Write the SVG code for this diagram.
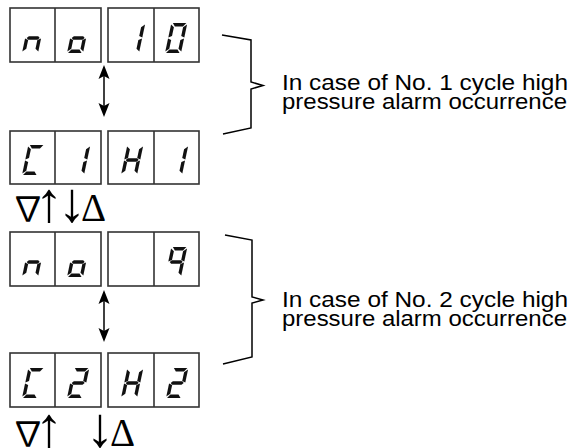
<svg xmlns="http://www.w3.org/2000/svg" xmlns:xlink="http://www.w3.org/1999/xlink" width="570" height="448" viewBox="0 0 570 448">
<style>
.box{fill:none;stroke:#333;stroke-width:1.6}
.seg{fill:#111}
.br{fill:none;stroke:#000;stroke-width:1.5}
.lbl{font-family:"Liberation Sans",Arial,sans-serif;font-size:22px;fill:#000}
.sym{font-family:"Liberation Serif","DejaVu Serif",serif;font-size:39px;fill:#000}
.tri{font-family:"Noto Sans CJK JP","Liberation Serif",serif;font-size:34px}
.ar{font-size:56px}
.arr{stroke:#000;stroke-width:1.5}
.ah{fill:#000}
</style>
<defs>
<polygon id="sa" class="seg" points="1.5,-30 15,-30 12.3,-26.6 4.2,-26.6"/>
<polygon id="sd" class="seg" points="1,0 14.5,0 11.8,-3.4 3.7,-3.4"/>
<polygon id="sg" class="seg" points="1.5,-15 3.3,-16.8 12.7,-16.8 14.5,-15 12.7,-13.2 3.3,-13.2"/>
<polygon id="sf" class="seg" points="0,-28.5 3.4,-25.8 3.4,-17 0,-15.6"/>
<polygon id="se" class="seg" points="0,-14.4 3.4,-13 3.4,-4.2 0,-1.5"/>
<polygon id="sb" class="seg" points="16,-28.5 16,-15.6 12.6,-17 12.6,-25.8"/>
<polygon id="sc" class="seg" points="16,-14.4 16,-1.5 12.6,-4.2 12.6,-13"/>
<g id="d_n"><use xlink:href="#sc"/><use xlink:href="#se"/><use xlink:href="#sg"/></g>
<g id="d_o"><use xlink:href="#sc"/><use xlink:href="#sd"/><use xlink:href="#se"/><use xlink:href="#sg"/></g>
<g id="d_1"><use xlink:href="#sb"/><use xlink:href="#sc"/></g>
<g id="d_0"><use xlink:href="#sa"/><use xlink:href="#sb"/><use xlink:href="#sc"/><use xlink:href="#sd"/><use xlink:href="#se"/><use xlink:href="#sf"/></g>
<g id="d_C"><use xlink:href="#sa"/><use xlink:href="#sd"/><use xlink:href="#se"/><use xlink:href="#sf"/></g>
<g id="d_H"><use xlink:href="#sb"/><use xlink:href="#sc"/><use xlink:href="#se"/><use xlink:href="#sf"/><use xlink:href="#sg"/></g>
<g id="d_9"><use xlink:href="#sa"/><use xlink:href="#sb"/><use xlink:href="#sc"/><use xlink:href="#sf"/><use xlink:href="#sg"/></g>
<g id="d_2"><use xlink:href="#sa"/><use xlink:href="#sb"/><use xlink:href="#sg"/><use xlink:href="#se"/><use xlink:href="#sd"/></g>
<path id="headUp" class="ah" d="M0,0 L-5.5,14 L0,11 L5.5,14 Z"/>
</defs>

<g id="display1">
<rect class="box" x="10" y="8" width="91" height="54"/><line class="box" x1="55" y1="8" x2="55" y2="62"/>
<rect class="box" x="108" y="8" width="91" height="54"/><line class="box" x1="154" y1="8" x2="154" y2="62"/>
<use xlink:href="#d_n" transform="translate(22,53) skewX(-12)"/>
<use xlink:href="#d_o" transform="translate(67,53) skewX(-12)"/>
<use xlink:href="#d_1" transform="translate(123,53) skewX(-12)"/>
<use xlink:href="#d_0" transform="translate(165,53) skewX(-12)"/>
</g>

<g id="display2">
<rect class="box" x="10" y="131" width="91" height="53"/><line class="box" x1="55" y1="131" x2="55" y2="184"/>
<rect class="box" x="108" y="131" width="91" height="53"/><line class="box" x1="154" y1="131" x2="154" y2="184"/>
<use xlink:href="#d_C" transform="translate(22,175) skewX(-12)"/>
<use xlink:href="#d_1" transform="translate(68,175) skewX(-12)"/>
<use xlink:href="#d_H" transform="translate(121,175) skewX(-12)"/>
<use xlink:href="#d_1" transform="translate(166,175) skewX(-12)"/>
</g>

<g id="display3">
<rect class="box" x="10" y="232" width="91" height="54"/><line class="box" x1="55" y1="232" x2="55" y2="286"/>
<rect class="box" x="108" y="232" width="91" height="54"/><line class="box" x1="154" y1="232" x2="154" y2="286"/>
<use xlink:href="#d_n" transform="translate(22,277) skewX(-12)"/>
<use xlink:href="#d_o" transform="translate(67,277) skewX(-12)"/>
<use xlink:href="#d_9" transform="translate(165,277) skewX(-12)"/>
</g>

<g id="display4">
<rect class="box" x="10" y="353" width="91" height="54"/><line class="box" x1="55" y1="353" x2="55" y2="407"/>
<rect class="box" x="108" y="353" width="91" height="54"/><line class="box" x1="154" y1="353" x2="154" y2="407"/>
<use xlink:href="#d_C" transform="translate(22,398) skewX(-12)"/>
<use xlink:href="#d_2" transform="translate(67,398) skewX(-12)"/>
<use xlink:href="#d_H" transform="translate(121,398) skewX(-12)"/>
<use xlink:href="#d_2" transform="translate(166,398) skewX(-12)"/>
</g>

<g id="connectors">
<line class="arr" x1="104" y1="75" x2="104" y2="107"/>
<use xlink:href="#headUp" transform="translate(104,65)"/>
<use xlink:href="#headUp" transform="translate(104,117) rotate(180)"/>
<line class="arr" x1="104" y1="300" x2="104" y2="332"/>
<use xlink:href="#headUp" transform="translate(104,290)"/>
<use xlink:href="#headUp" transform="translate(104,342) rotate(180)"/>
</g>

<g id="bracket1">
<path class="br" d="M222,35 L251,40 L251,82 L263,85.5 L251,89 L251,128 L223,134"/>
<text class="lbl" x="282" y="90" textLength="286" lengthAdjust="spacingAndGlyphs">In case of No. 1 cycle high</text>
<text class="lbl" x="282" y="109" textLength="285" lengthAdjust="spacingAndGlyphs">pressure alarm occurrence</text>
</g>

<g id="bracket2">
<path class="br" d="M225,235 L252,240 L252,297 L263,300 L252,303 L252,357 L223,364"/>
<text class="lbl" x="282" y="307" textLength="286" lengthAdjust="spacingAndGlyphs">In case of No. 2 cycle high</text>
<text class="lbl" x="282" y="326" textLength="285" lengthAdjust="spacingAndGlyphs">pressure alarm occurrence</text>
</g>

<g id="keys1">
<text class="sym" y="221"><tspan class="tri" x="11">∇</tspan><tspan class="ar" x="35">↑</tspan><tspan class="ar" x="58">↓</tspan><tspan x="81">Δ</tspan></text>
</g>
<g id="keys2">
<text class="sym" y="446"><tspan class="tri" x="11">∇</tspan><tspan class="ar" x="35">↑</tspan><tspan class="ar" x="86">↓</tspan><tspan x="110">Δ</tspan></text>
</g>
</svg>
